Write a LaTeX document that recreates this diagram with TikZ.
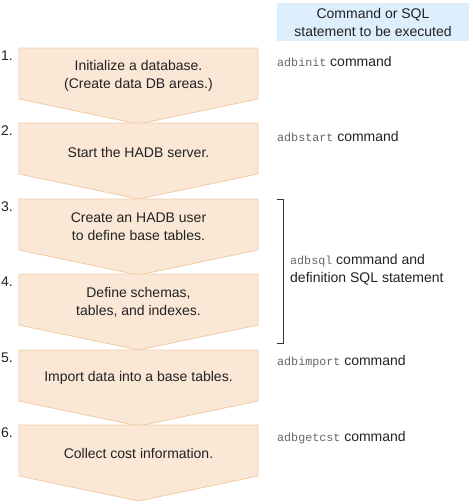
\documentclass[tikz,border=0pt]{standalone}
\usepackage{fontspec}
\setmainfont{Liberation Sans}
\newfontfamily\codefont{Liberation Mono}
\usepackage{tikz}
\usetikzlibrary{positioning}
\definecolor{StepFill}{HTML}{FAE7D6}
\definecolor{StepLine}{HTML}{F0CBA6}
\definecolor{HeadBlue}{HTML}{DDEEFD}
\definecolor{CodeGray}{HTML}{666666}
\definecolor{TextDark}{HTML}{222222}
\newcommand{\cmd}[1]{{\codefont\fontsize{11.7}{14}\selectfont\textcolor{CodeGray}{#1}}}
\newcommand{\stepshape}[1]{\draw[stepbox] (19,#1) -- ++(239,0) -- ++(0,51)
  -- ++(-119.5,25) -- ++(-119.5,-25) -- cycle;}

\begin{document}
\begin{tikzpicture}[x=1pt,y=-1pt,
          every node/.style={font=\fontsize{14}{18}\selectfont, text=TextDark, inner sep=0pt},
          stepbox/.style={draw=StepLine, fill=StepFill, line width=0.8pt, line join=miter},
          steptext/.style={align=center},
          num/.style={anchor=west},
          cmdtext/.style={anchor=west, align=left}]
        \useasboundingbox (0,0) rectangle (472,504);
        \node[fill=HeadBlue, minimum width=192, minimum height=38, align=center]
        (head) at (373,22)
        {Command or SQL\\statement to be executed};
        \stepshape{48} \stepshape{123} \stepshape{199}
        \stepshape{274} \stepshape{350} \stepshape{425}
        \node[steptext] (s1) at (138.5,76) {Initialize a database.\\(Create data DB areas.)};
        \node[steptext] (s2) at (138.5,152) {Start the HADB server.};
        \node[steptext] (s3) at (138.5,227) {Create an HADB user\\to define base tables.};
        \node[steptext] (s4) at (138.5,302) {Define schemas,\\tables, and indexes.};
        \node[steptext] (s5) at (138.5,378) {Import data into a base tables.};
        \node[steptext] (s6) at (138.5,453) {Collect cost information.};
        \node[num] (n1) at (1,56) {1.};
        \node[num] (n2) at (1,131) {2.};
        \node[num] (n3) at (1,207) {3.};
        \node[num] (n4) at (1,282) {4.};
        \node[num] (n5) at (1,358) {5.};
        \node[num] (n6) at (1,433) {6.};
        \node[cmdtext] (c1) at (277,61) {\cmd{adbinit} command};
        \node[cmdtext] (c2) at (277,136) {\cmd{adbstart} command};
        \node[cmdtext] (c34) at (290,270) {\cmd{adbsql} command and\\definition SQL statement};
        \node[cmdtext] (c5) at (277,362) {\cmd{adbimport} command};
        \node[cmdtext] (c6) at (277,438) {\cmd{adbgetcst} command};
        \coordinate (btop) at (277,199);
        \coordinate (bbot) at (277,343);
        \draw[TextDark!90, line width=0.9pt] (btop) -- ++(6,0) -- ++(0,144) -- (bbot);
      \end{tikzpicture}
\end{document}
